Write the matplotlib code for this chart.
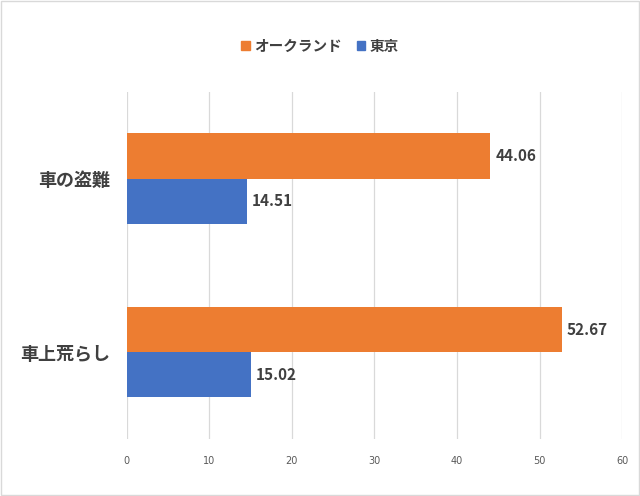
import matplotlib
matplotlib.use("Agg")
import matplotlib.pyplot as plt
import matplotlib.patches as mpatches
import numpy as np

plt.rcParams["font.family"] = ["Noto Sans CJK JP", "DejaVu Sans"]

categories = ["車の盗難", "車上荒らし"]
series_names = ["オークランド", "東京"]
auckland = [44.06, 52.67]
tokyo = [14.51, 15.02]
xticks = [0, 10, 20, 30, 40, 50, 60]

ORANGE = "#ED7D31"
BLUE = "#4472C4"
TEXT = "#404040"

fig = plt.figure(figsize=(6.4, 4.96), dpi=100)
ax = fig.add_axes([0.198, 0.115, 0.774, 0.700])

y = np.arange(len(categories))
h = 0.26
ax.barh(y - h / 2, auckland, h, color=ORANGE, zorder=3)
ax.barh(y + h / 2, tokyo, h, color=BLUE, zorder=3)

for yi, v in zip(y, auckland):
    ax.text(v + 0.6, yi - h / 2, f"{v:.2f}", va="center", ha="left",
            fontsize=11, fontweight="bold", color=TEXT)
for yi, v in zip(y, tokyo):
    ax.text(v + 0.6, yi + h / 2, f"{v:.2f}", va="center", ha="left",
            fontsize=11, fontweight="bold", color=TEXT)

ax.set_xlim(0, 60)
ax.set_ylim(1.5, -0.5)
ax.set_xticks(xticks)
ax.set_xticklabels([str(t) for t in xticks], fontsize=7, color="#595959",
                   family=["DejaVu Sans"])
ax.set_yticks(y)
ax.set_yticklabels(categories, fontsize=13, color=TEXT, fontweight="bold")
ax.tick_params(axis="both", length=0, pad=12)
ax.tick_params(axis="x", pad=12)
ax.xaxis.grid(True, color="#d9d9d9", linewidth=0.9, zorder=0)
for s in ax.spines.values():
    s.set_visible(False)

handles = [mpatches.Patch(color=ORANGE, label=series_names[0]),
           mpatches.Patch(color=BLUE, label=series_names[1])]
leg = fig.legend(handles=handles, loc="center", bbox_to_anchor=(0.5, 0.908),
                 ncol=2, frameon=False, handlelength=0.6, handleheight=0.6,
                 handletextpad=0.3, columnspacing=1.0,
                 prop={"size": 10.5, "weight": "bold",
                       "family": ["Noto Sans CJK JP", "DejaVu Sans"]})
for t in leg.get_texts():
    t.set_color(TEXT)

fig.patches.append(mpatches.Rectangle((0.002, 0.002), 0.996, 0.996,
                                      transform=fig.transFigure, fill=False,
                                      edgecolor="#d9d9d9", linewidth=1))

fig.savefig("out.png", dpi=100)
